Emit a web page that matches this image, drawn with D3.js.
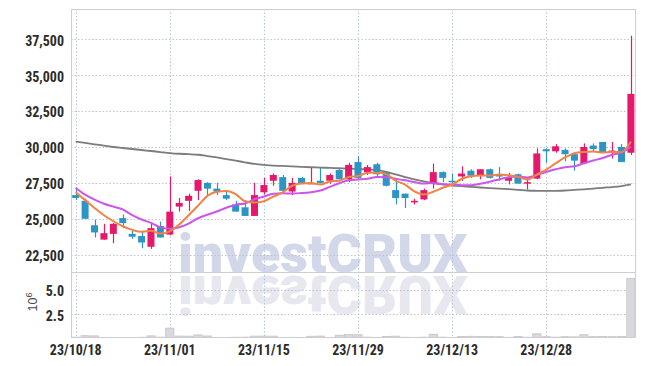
<!DOCTYPE html>
<html>
<head>
<meta charset="utf-8">
<script src="https://cdn.jsdelivr.net/npm/d3@7"></script>
<style>
body { margin: 0; background: #fff; }
svg text { font-family: "Liberation Sans Narrow", "Roboto Condensed", "DejaVu Sans Condensed", sans-serif; }
svg text.wm { font-family: Roboto, "Open Sans", sans-serif; font-weight: 900; }
</style>
</head>
<body>
<svg id="chart" width="645" height="366"></svg>
<script>
// trading days (yy/mm/dd)
var dates = ["23/10/18","23/10/19","23/10/20","23/10/23","23/10/24","23/10/25","23/10/26","23/10/27","23/10/30","23/10/31",
    "23/11/01","23/11/02","23/11/03","23/11/06","23/11/07","23/11/08","23/11/09","23/11/10","23/11/13","23/11/14",
    "23/11/15","23/11/16","23/11/17","23/11/20","23/11/21","23/11/22","23/11/23","23/11/24","23/11/27","23/11/28",
    "23/11/29","23/11/30","23/12/01","23/12/04","23/12/05","23/12/06","23/12/07","23/12/08","23/12/11","23/12/12",
    "23/12/13","23/12/14","23/12/15","23/12/18","23/12/19","23/12/20","23/12/21","23/12/22","23/12/26","23/12/27",
    "23/12/28","24/01/02","24/01/03","24/01/04","24/01/05","24/01/08","24/01/09","24/01/10","24/01/11","24/01/12"];

var opens = [26650,26250,24550,23550,23950,25050,23950,23800,23050,24500,
    23900,25850,26250,26950,27500,27100,26650,26000,25800,25200,
    26850,27650,27900,26900,27850,27450,27650,27650,28400,27750,
    28950,28250,28800,28250,27000,26750,26150,26350,27450,28250,
    27650,27950,28350,28000,28450,28050,27650,28100,27450,27800,
    29850,29700,29800,29500,28850,30100,30350,29650,30000,29600];
var highs = [27200,26400,24950,24650,24700,25300,24250,24100,24700,24800,
    27950,26450,26750,27750,27550,27500,27000,26250,26300,27500,
    27850,28150,28050,27850,27900,28550,28550,28150,28450,28900,
    29350,28750,28900,28250,27600,26750,26400,27100,28850,28300,
    28150,28650,28450,28450,28500,28600,28200,28150,27850,29900,
    29900,30200,29900,29600,30250,30250,30350,30350,30200,37750];
var lows = [26300,25000,23700,23550,23300,24350,23600,22950,22900,23700,
    23850,25500,25550,26300,26650,26650,26300,25500,25200,25200,
    26700,27300,26950,26650,27400,27450,27450,27450,27750,27550,
    27750,28050,27850,27250,26000,25750,26000,26300,27100,27550,
    27350,27650,27850,27750,27800,27650,27400,27450,27050,27750,
    28900,29600,29000,28350,28800,29650,29600,29200,28950,29450];
var closes = [26450,25000,24050,24000,24650,24700,23750,23350,24350,23700,
    25500,26100,26600,27700,27100,26900,26400,25500,25200,26650,
    27350,28050,26950,27500,27450,27500,27500,28050,27750,28750,
    27850,28600,28100,27300,26450,26450,26250,27000,28250,27850,
    27600,28150,28000,28450,27850,28000,27850,27450,27550,29550,
    29700,30050,29500,29050,30000,29850,29650,29750,28950,33700];

// volume, millions of shares
var volumes = [0.15,0.3,0.28,0.12,0.1,0.12,0.1,0.14,0.28,0.15,
    1.08,0.26,0.25,0.38,0.27,0.12,0.1,0.14,0.15,0.25,
    0.26,0.25,0.12,0.13,0.1,0.24,0.26,0.12,0.35,0.42,
    0.4,0.15,0.12,0.22,0.25,0.14,0.1,0.15,0.45,0.15,
    0.12,0.22,0.24,0.22,0.23,0.2,0.13,0.22,0.14,0.5,
    0.2,0.15,0.2,0.18,0.4,0.2,0.22,0.2,0.23,6.2];

// moving averages
var ma5 = [26850,26300,25750,25250,24830,24480,24230,24090,24160,23970,
    24130,24600,25250,25920,26600,26880,26940,26720,26220,26130,
    26220,26550,26840,27300,27460,27490,27380,27600,27650,27910,
    27980,28200,28210,28120,27660,27380,26910,26690,26880,27160,
    27390,27770,27970,28010,28010,28090,28030,27920,27740,28080,
    28420,28860,29270,29570,29660,29690,29610,29660,29640,30380];
var ma10 = [27150,26680,26330,26050,25850,25650,25250,24950,24720,24400,
    24305,24415,24670,25040,25285,25505,25770,25985,26070,26365,
    26550,26745,26780,26760,26795,26855,26965,27220,27475,27685,
    27735,27790,27905,27885,27785,27680,27555,27450,27500,27410,
    27385,27340,27330,27445,27585,27740,27900,27945,27875,28045,
    28255,28445,28595,28655,28870,29055,29235,29465,29605,30020];
var ma60 = [30380,30280,30190,30090,30000,29930,29860,29790,29720,29650,
    29580,29530,29500,29460,29370,29270,29160,29050,28930,28820,
    28750,28700,28680,28650,28620,28590,28570,28540,28520,28500,
    28470,28430,28400,28260,28090,27910,27740,27600,27480,27390,
    27320,27270,27230,27180,27140,27100,27060,27020,26970,26950,
    26940,26950,26970,27010,27050,27100,27160,27210,27280,27400];

var priceTicks = [22500, 25000, 27500, 30000, 32500, 35000, 37500];
var volTicks = [2.5, 5.0];
var dateTicks = ["23/10/18","23/11/01","23/11/15","23/11/29","23/12/13","23/12/28"];

function drawChart() {

    var svg = d3.select("#chart");

    var left = 71, right = 635.6, plotTop = 9, sep = 272, bottom = 337;

    // scales
    var x = d3.scaleBand().domain(dates).range([left, right]).padding(0);
    var bw = x.bandwidth();
    var cx = function(d) { return x(d) + bw / 2; };
    var y = d3.scaleLinear().domain([21295, 39610]).range([sep, plotTop]);
    var yVol = d3.scaleLinear().domain([0, 6.85]).range([338.6, sep]);

    svg.append("clipPath").attr("id", "volclip")
        .append("rect").attr("x", left).attr("y", sep).attr("width", right - left).attr("height", bottom - sep);

    // watermark + reflection
    var wm = svg.append("g");
    wm.append("text").attr("class", "wm")
        .attr("x", 178).attr("y", 272)
        .attr("font-size", 54)
        .attr("fill", "#d2d7ea")
        .text("investCRUX");
    wm.append("text").attr("class", "wm")
        .attr("x", 178).attr("y", 272)
        .attr("transform", "translate(0,548) scale(1,-1)")
        .attr("font-size", 54)
        .attr("fill", "#e6e7ef")
        .text("investCRUX");

    // grid lines
    var grid = svg.append("g").attr("fill", "none").attr("stroke-dasharray", "1.5,2");
    grid.selectAll(".hp").data(priceTicks).enter().append("line")
        .attr("x1", left).attr("x2", right)
        .attr("y1", function(d) { return Math.round(y(d)) + 0.5; })
        .attr("y2", function(d) { return Math.round(y(d)) + 0.5; })
        .attr("stroke", "#c2c2ce");
    grid.selectAll(".hv").data(volTicks).enter().append("line")
        .attr("x1", left).attr("x2", right)
        .attr("y1", function(d) { return Math.round(yVol(d)) + 0.5; })
        .attr("y2", function(d) { return Math.round(yVol(d)) + 0.5; })
        .attr("stroke", "#c2c2ce");
    grid.selectAll(".v").data(dateTicks).enter().append("line")
        .attr("x1", function(d) { return Math.round(cx(d)) + 0.5; })
        .attr("x2", function(d) { return Math.round(cx(d)) + 0.5; })
        .attr("y1", plotTop).attr("y2", bottom)
        .attr("stroke", "#bcc3de");

    // volume bars
    svg.append("g").attr("clip-path", "url(#volclip)")
        .selectAll("rect").data(dates).enter().append("rect")
        .attr("x", function(d) { return x(d) + 0.6; })
        .attr("width", bw - 1.2)
        .attr("y", function(d, i) { return yVol(volumes[i]); })
        .attr("height", function(d, i) { return yVol(0) - yVol(volumes[i]); })
        .attr("fill", "#d8d8de")
        .attr("stroke", "#c3c3cb")
        .attr("stroke-width", 0.8);

    var line = function(vals) {
        return d3.line()
            .x(function(d, i) { return cx(dates[i]); })
            .y(function(d) { return y(d); })
            .curve(d3.curveMonotoneX)(vals);
    };

    // MA60 under the candles
    svg.append("path").attr("d", line(ma60)).attr("fill", "none")
        .attr("stroke", "#7c7c7c").attr("stroke-width", 1.8);

    // candles
    var up = "#e5196b", down = "#2d94c6";
    var candle = svg.append("g").selectAll("g").data(dates).enter().append("g");
    candle.append("line")
        .attr("x1", function(d) { return Math.round(cx(d)) + 0.5; })
        .attr("x2", function(d) { return Math.round(cx(d)) + 0.5; })
        .attr("y1", function(d, i) { return y(highs[i]); })
        .attr("y2", function(d, i) { return y(lows[i]); })
        .attr("stroke", function(d, i) { return closes[i] >= opens[i] ? up : down; })
        .attr("stroke-width", 1.2);
    candle.append("rect")
        .attr("x", function(d) { return cx(d) - 3.5; })
        .attr("width", 7)
        .attr("y", function(d, i) { return y(Math.max(opens[i], closes[i])); })
        .attr("height", function(d, i) { return Math.max(1.5, Math.abs(y(opens[i]) - y(closes[i]))); })
        .attr("fill", function(d, i) { return closes[i] >= opens[i] ? up : down; });

    // short moving averages
    svg.append("path").attr("d", line(ma10)).attr("fill", "none")
        .attr("stroke", "#cc55ea").attr("stroke-width", 2);
    svg.append("path").attr("d", line(ma5)).attr("fill", "none")
        .attr("stroke", "#ef8445").attr("stroke-width", 2);

    // frame
    var frame = svg.append("g").attr("stroke", "#cdcdd2").attr("stroke-width", 1).attr("fill", "none");
    frame.append("line").attr("x1", left + 0.5).attr("x2", left + 0.5).attr("y1", plotTop).attr("y2", bottom);
    frame.append("line").attr("x1", right).attr("x2", right).attr("y1", plotTop).attr("y2", bottom);
    frame.append("line").attr("x1", left).attr("x2", right).attr("y1", plotTop + 0.5).attr("y2", plotTop + 0.5);
    frame.append("line").attr("x1", left).attr("x2", right).attr("y1", sep + 0.5).attr("y2", sep + 0.5);
    frame.append("line").attr("x1", left).attr("x2", right).attr("y1", bottom + 0.5).attr("y2", bottom + 0.5);

    // axes
    var yAxis = svg.append("g")
        .attr("transform", "translate(" + left + ",0)")
        .call(d3.axisLeft(y).tickValues(priceTicks).tickFormat(d3.format(",")).tickSize(0).tickPadding(7));
    var vAxis = svg.append("g")
        .attr("transform", "translate(" + left + ",0)")
        .call(d3.axisLeft(yVol).tickValues(volTicks).tickFormat(d3.format(".1f")).tickSize(0).tickPadding(7));
    var xAxis = svg.append("g")
        .attr("transform", "translate(0," + bottom + ")")
        .call(d3.axisBottom(x).tickValues(dateTicks).tickSize(0).tickPadding(8));

    [yAxis, vAxis, xAxis].forEach(function(a) {
        a.select(".domain").remove();
        a.selectAll("text")
            .attr("font-size", 14)
            .attr("font-weight", "bold")
            .attr("fill", "#2b2b2b");
    });
    yAxis.selectAll("text").attr("dy", "0.42em");
    vAxis.selectAll("text").attr("dy", "0.42em");
    xAxis.selectAll("text").attr("dy", "0.71em");

    // 10^6 unit label
    var unit = svg.append("text")
        .attr("transform", "translate(37,302) rotate(-90)")
        .attr("text-anchor", "middle")
        .attr("font-size", 12.5)
        .attr("fill", "#444")
        .style("font-family", "'Liberation Sans', sans-serif");
    unit.append("tspan").text("10");
    unit.append("tspan").attr("dy", -5).attr("font-size", 9).text("6");
}

drawChart();
</script>
</body>
</html>
